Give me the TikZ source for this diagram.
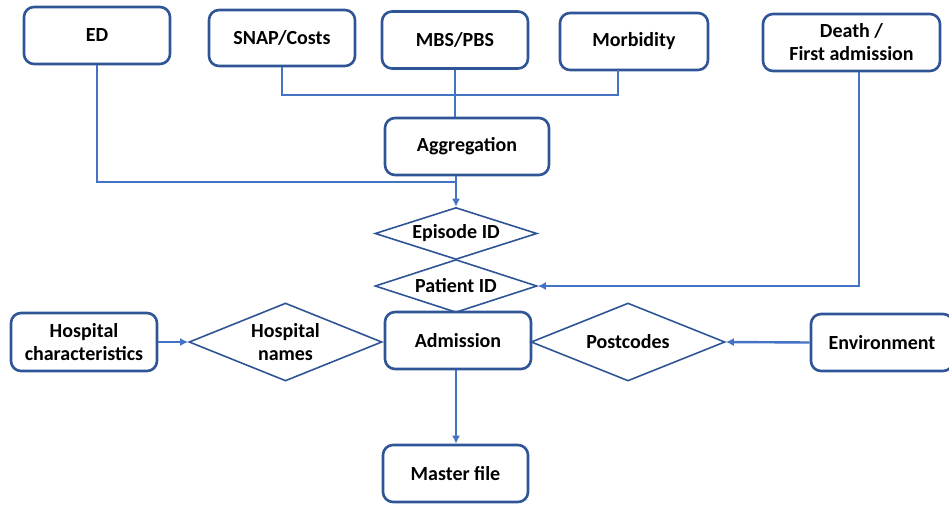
\documentclass[tikz,border=0pt]{standalone}
\usepackage{fontspec}
\setmainfont{Carlito}
\usetikzlibrary{shapes.geometric,arrows.meta,calc}
\definecolor{boxblue}{RGB}{47,85,151}
\definecolor{linkblue}{RGB}{68,114,196}
\begin{document}
\begin{tikzpicture}[x=1pt,y=-1pt,
  txt/.style={font=\fontsize{20}{23}\selectfont\bfseries, text=black, align=center},
  databox/.style={txt, draw=boxblue, line width=2.6pt, rounded corners=10pt, fill=white, inner sep=0pt},
  keyshape/.style={diamond, draw=boxblue, line width=1.6pt, inner sep=0pt, fill=white},
  conn/.style={draw=linkblue, line width=2.4pt},
  arr/.style={conn, -{Latex[length=8pt,width=8pt]}}
]
\useasboundingbox (0,0) rectangle (949,504);
% top sources
\node[databox, minimum width=146pt, minimum height=57pt] (ed) at (97,35.5) {ED};
\node[databox, minimum width=146pt, minimum height=56pt] (snap) at (282,38) {SNAP/Costs};
\node[databox, minimum width=146pt, minimum height=57pt] (mbs) at (455,40) {MBS/PBS};
\node[databox, minimum width=148pt, minimum height=57pt] (morb) at (634,41.5) {Morbidity};
\node[databox, minimum width=177pt, minimum height=57pt] (death) at (851.5,42.5) {Death /\\First admission};
\node[databox, minimum width=164pt, minimum height=57pt] (agg) at (467,146.5) {Aggregation};
% keys
\node[keyshape, minimum width=162pt, minimum height=52pt, label={[txt]center:Episode ID}] (ep) at (456,233.5) {};
\node[keyshape, minimum width=162pt, minimum height=53pt, label={[txt]center:Patient ID}] (pat) at (456,286) {};
\node[databox, minimum width=146pt, minimum height=57pt] (adm) at (458,340.5) {Admission};
\node[keyshape, minimum width=193pt, minimum height=78pt, label={[txt]center:Hospital\\names}] (hn) at (285.5,342) {};
\node[keyshape, minimum width=194pt, minimum height=78pt, label={[txt]center:Postcodes}] (pc) at (628,342) {};
\node[databox, minimum width=146pt, minimum height=58pt] (hc) at (84,342) {Hospital\\characteristics};
\node[databox, minimum width=142pt, minimum height=57pt] (env) at (882,342.5) {Environment};
\node[databox, minimum width=145pt, minimum height=57pt] (mf) at (455.5,473.5) {Master file};
% junctions
\coordinate (j1) at (456,182);
\coordinate (j2) at (455,95);
\coordinate (mb) at (618,70);
% connectors
\draw[conn] (snap.south) |- (j2) -| (mb);
\draw[conn] (mbs.south) -- (mbs.south |- agg.north);
\draw[conn] (ed.south) |- (j1);
\draw[conn] (agg.south -| j1) -- (j1);
\draw[arr] (j1) -- (ep.north);
\draw[arr] ([xshift=7.5pt]death.south) |- (pat.east);
\draw[arr] (hc.east) -- (hn.west);
\draw[arr] (env.west) -- (pc.east);
\draw[arr] (adm.south -| j1) -- (mf.north -| j1);
\end{tikzpicture}
\end{document}
